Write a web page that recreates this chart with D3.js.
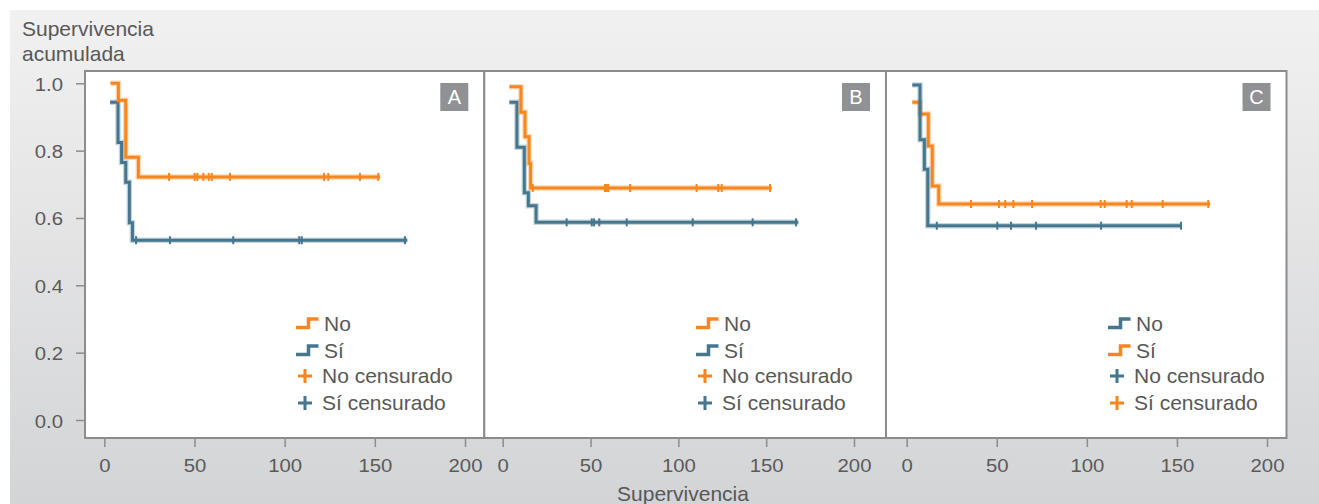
<!DOCTYPE html>
<html>
  <head>
    <meta charset="utf-8">
    <title>Supervivencia acumulada</title>
    <style media="screen">
      body {margin:0; background:#fff}
      text {font-family: "Liberation Sans", Arial, sans-serif; fill: #585858}
    </style>
  </head>
  <body>
    <script src="https://cdn.jsdelivr.net/npm/d3@7"></script>
    <script type="text/javascript">

    // Kaplan-Meier steps: times (start, drops, end) and survival
    const aNoTimes  = [3.5, 7.8, 11.9, 18.9, 152.9]
    const aNoSurv   = [1.0, 0.95, 0.78, 0.722, 0.722]
    const aNoCens   = [35.9, 50.1, 51.6, 54.9, 57.9, 59.6, 69.7, 121.8, 124.2, 141.8, 151.9]
    const aSiTimes  = [3.2, 7.6, 9.6, 11.9, 13.9, 15.6, 168]
    const aSiSurv   = [0.944, 0.824, 0.765, 0.706, 0.586, 0.534, 0.534]
    const aSiCens   = [17.6, 36.4, 71.5, 108.1, 109.5, 166.7]

    const bNoTimes  = [3.8, 10.4, 12.7, 15.0, 15.9, 153.1]
    const bNoSurv   = [0.99, 0.914, 0.841, 0.762, 0.689, 0.689]
    const bNoCens   = [17.1, 58.2, 59.2, 60.1, 72.5, 110.4, 122.7, 124.7, 152.2]
    const bSiTimes  = [3.8, 8.1, 12.3, 14.6, 19.0, 168.3]
    const bSiSurv   = [0.944, 0.81, 0.675, 0.636, 0.587, 0.587]
    const bSiCens   = [36.4, 50.7, 52.0, 55.0, 70.6, 108.2, 142.3, 167.0]

    const cNoTimes  = [3.1, 7.4, 9.8, 11.7, 152.6]
    const cNoSurv   = [0.995, 0.832, 0.745, 0.577, 0.577]
    const cNoCens   = [16.7, 50.3, 57.9, 71.8, 107.9, 152.3]
    const cSiTimes  = [3.1, 7.4, 12.0, 14.2, 17.8, 168.4]
    const cSiSurv   = [0.944, 0.909, 0.814, 0.695, 0.6415, 0.6415]
    const cSiCens   = [35.7, 51.2, 54.7, 59.2, 69.6, 107.7, 109.9, 122.1, 124.9, 142.1, 167.4]

    const panelNames = ['A', 'B', 'C']
    const legendLabels = ['No', 'Sí', 'No censurado', 'Sí censurado']
    const xTicks = [0, 50, 100, 150, 200]
    const yTicks = [0, 0.2, 0.4, 0.6, 0.8, 1.0]

    const orange = '#f7861f'
    const blue = '#44768f'
    const grey = '#8c8c8c'

    const W = 1319, H = 504

    const svg = d3.select('body').append('svg')
      .attr('width', W)
      .attr('height', H)

    const grad = svg.append('defs').append('linearGradient')
      .attr('id', 'bg').attr('x1', 0).attr('y1', 0).attr('x2', 0).attr('y2', 1)
    grad.append('stop').attr('offset', '0%').attr('stop-color', '#f1f1f1')
    grad.append('stop').attr('offset', '100%').attr('stop-color', '#d3d4d6')

    svg.append('rect')
      .attr('x', 10).attr('y', 10).attr('width', W - 10).attr('height', H - 10)
      .attr('fill', 'url(#bg)')

    const y = d3.scaleLinear().domain([0, 1]).range([420, 83.3])

    const plotTop = 71, plotBottom = 438

    // panel frames and x ranges (panel B was drawn a little narrower)
    const panels = [
      {left: 85, right: 484.3, x0: 104.3, x1: 465,
       no: [aNoTimes, aNoSurv, aNoCens], si: [aSiTimes, aSiSurv, aSiCens],
       noColor: orange, siColor: blue, legendX: 296},
      {left: 484.3, right: 886, x0: 502.7, x1: 854,
       no: [bNoTimes, bNoSurv, bNoCens], si: [bSiTimes, bSiSurv, bSiCens],
       noColor: orange, siColor: blue, legendX: 696},
      {left: 886, right: 1286.5, x0: 906.7, x1: 1267,
       no: [cNoTimes, cNoSurv, cNoCens], si: [cSiTimes, cSiSurv, cSiCens],
       noColor: blue, siColor: orange, legendX: 1108}
    ]

    function survAt (times, surv, t) {
      let s = surv[0]
      times.forEach((d, i) => { if (d <= t) s = surv[i] })
      return s
    }

    panels.forEach((p, pi) => {
      const x = d3.scaleLinear().domain([0, 200]).range([p.x0, p.x1])
      const g = svg.append('g')

      g.append('rect')
        .attr('x', p.left).attr('y', plotTop)
        .attr('width', p.right - p.left).attr('height', plotBottom - plotTop)
        .attr('fill', '#fff')

      const line = d3.line()
        .x(d => x(d[0]))
        .y(d => y(d[1]))
        .curve(d3.curveStepAfter)

      const groups = [[p.si, p.siColor], [p.no, p.noColor]]
      groups.forEach(([ser, col]) => {
        const pts = ser[0].map((t, i) => [t, ser[1][i]])
        g.append('path').attr('d', line(pts))
          .attr('fill', 'none').attr('stroke', col)
          .attr('stroke-opacity', 0.3).attr('stroke-width', 5.5)
        g.append('path').attr('d', line(pts))
          .attr('fill', 'none').attr('stroke', col).attr('stroke-width', 3)
        g.selectAll(null).data(ser[2]).join('line')
          .attr('x1', d => x(d)).attr('x2', d => x(d))
          .attr('y1', d => y(survAt(ser[0], ser[1], d)) - 4)
          .attr('y2', d => y(survAt(ser[0], ser[1], d)) + 4)
          .attr('stroke', col).attr('stroke-width', 2)
      })

      // panel letter box
      g.append('rect')
        .attr('x', p.right - 44).attr('y', 83).attr('width', 28).attr('height', 28)
        .attr('fill', '#909194')
      g.append('text')
        .attr('x', p.right - 30).attr('y', 104)
        .attr('text-anchor', 'middle')
        .style('font-size', '20px').style('fill', '#fff')
        .text(panelNames[pi])

      // legend
      const lx = p.legendX
      const colors = [p.noColor, p.siColor]
      colors.forEach((c, i) => {
        const by = 331 + i * 27
        g.append('path')
          .attr('d', `M${lx},${by - 3.5}h12.5v-8.5h10`)
          .attr('fill', 'none').attr('stroke', c).attr('stroke-width', 3.5)
        g.append('text').attr('x', lx + 28).attr('y', by)
          .style('font-size', '21px').text(legendLabels[i])
      })
      colors.forEach((c, i) => {
        const by = 383 + i * 27
        const cx = lx + 9, cy = by - 7
        g.append('path')
          .attr('d', `M${cx - 7},${cy}h14M${cx},${cy - 7}v14`)
          .attr('stroke', c).attr('stroke-width', 3)
        g.append('text').attr('x', lx + 26).attr('y', by)
          .style('font-size', '21px').text(legendLabels[i + 2])
      })

      // x axis
      const ax = g.append('g')
        .attr('transform', `translate(0,${plotBottom + 1})`)
        .call(d3.axisBottom(x).tickValues(xTicks).tickSize(8).tickPadding(10))
      ax.select('.domain').remove()
      ax.selectAll('.tick line').attr('stroke', grey).attr('stroke-width', 1.5)
      ax.selectAll('.tick text')
        .attr('y', 0).attr('dy', 0)
        .attr('transform', 'translate(0,33) scale(1.13,1)')
        .style('font-size', '18px').style('fill', '#5a5a5a')
        .style('font-family', '"Liberation Sans", Arial, sans-serif')

      // frame
      g.append('rect')
        .attr('x', p.left).attr('y', plotTop)
        .attr('width', p.right - p.left).attr('height', plotBottom - plotTop)
        .attr('fill', 'none').attr('stroke', grey).attr('stroke-width', 2)
    })

    // y axis on the left of panel A
    const ay = svg.append('g')
      .attr('transform', 'translate(84,0)')
      .call(d3.axisLeft(y).tickValues(yTicks).tickSize(8).tickFormat(d3.format('.1f')))
    ay.select('.domain').remove()
    ay.selectAll('.tick line').attr('stroke', grey).attr('stroke-width', 1.5)
    ay.selectAll('.tick text')
      .attr('x', 0).attr('dy', 0)
      .attr('transform', 'translate(-21,7) scale(1.13,1)')
      .style('font-size', '18px').style('fill', '#5a5a5a')
      .style('font-family', '"Liberation Sans", Arial, sans-serif')

    svg.append('text').attr('x', 22).attr('y', 36)
      .style('font-size', '21px').text('Supervivencia')
    svg.append('text').attr('x', 22).attr('y', 61)
      .style('font-size', '21px').text('acumulada')

    svg.append('text').attr('x', 683).attr('y', 501)
      .attr('text-anchor', 'middle')
      .style('font-size', '21px').text('Supervivencia')

    </script>
  </body>
</html>
